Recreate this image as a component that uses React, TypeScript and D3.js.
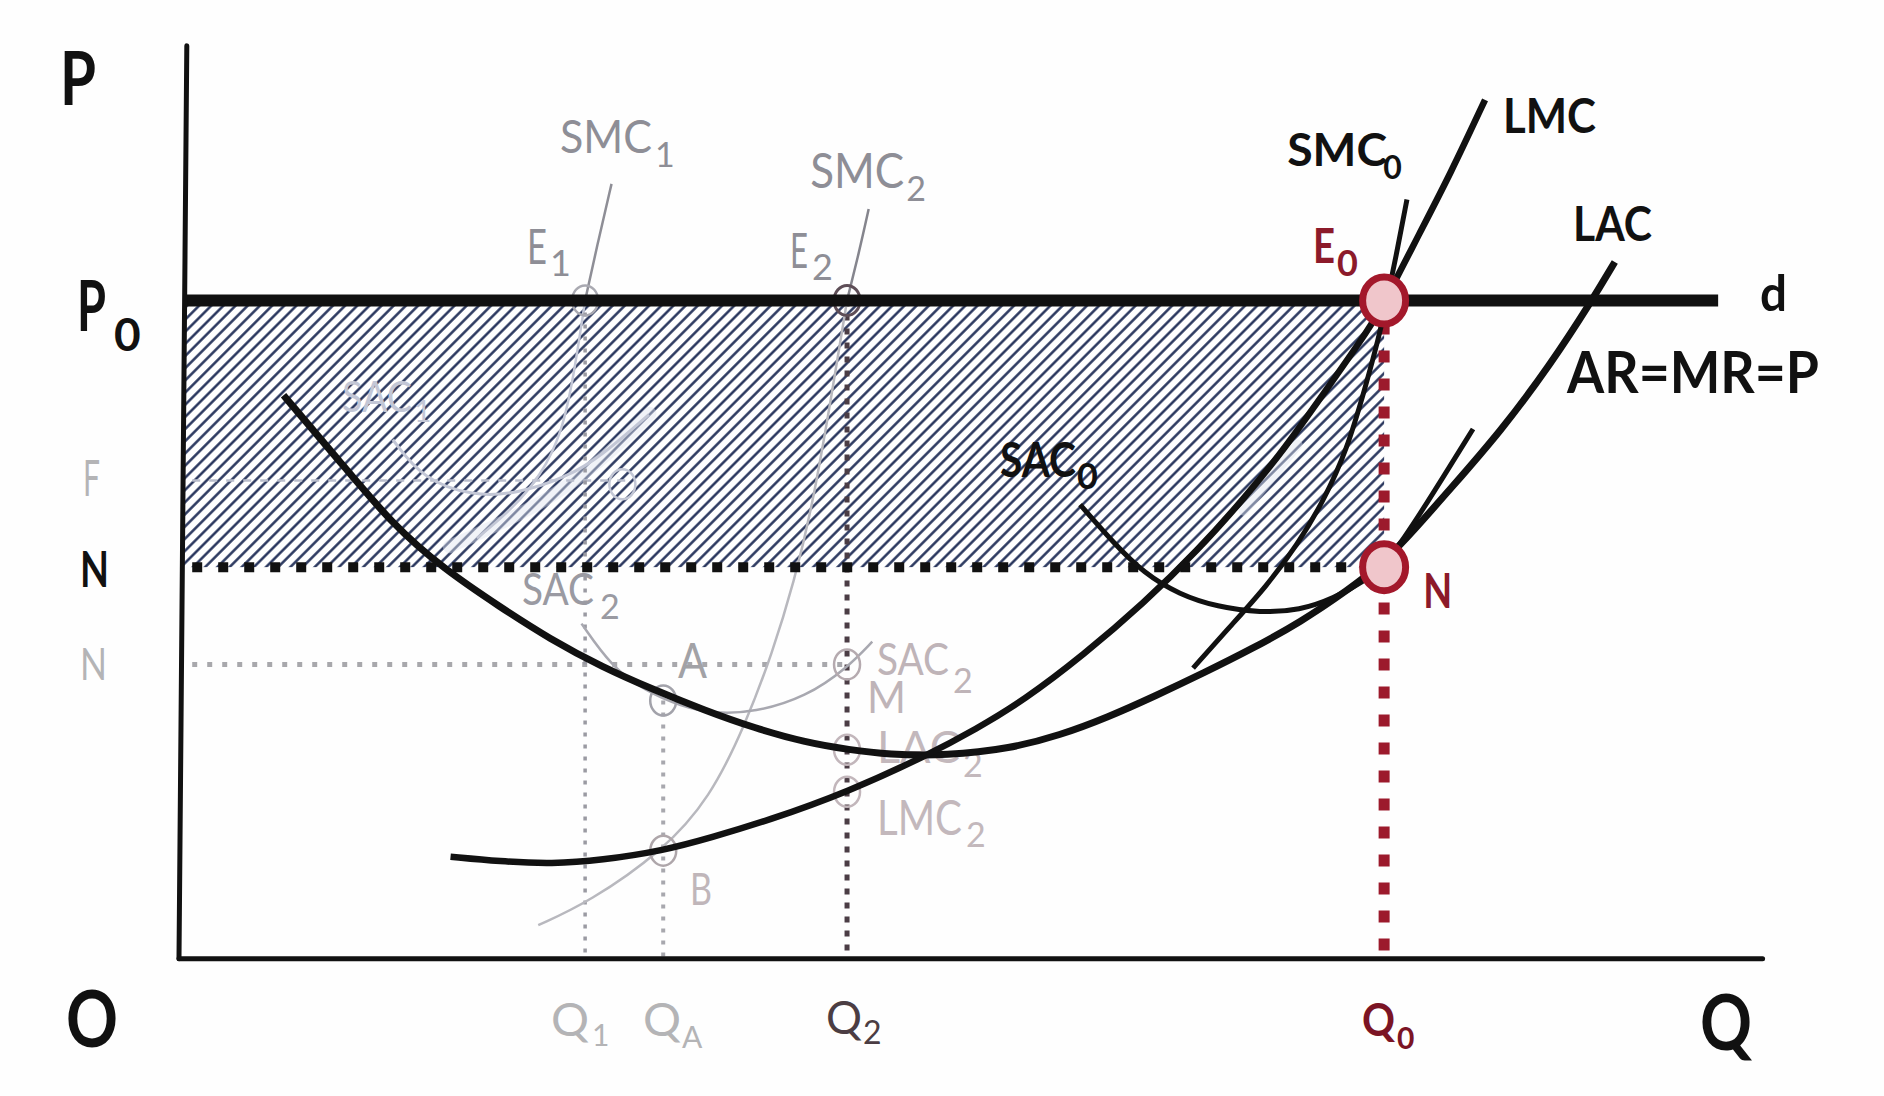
import React from "react";
import * as d3 from "d3";

type Pt = [number, number];

// price levels (P units) and quantities (Q units)
const P0 = 54.8;
const N_LEVEL = 32.6;
const N_GRAY = 24.5;
const F_LEVEL = 39.8;
const Q1 = 33.5;
const QA = 40.0;
const Q2 = 55.3;
const Q0 = 100;

// long-run curves
const lac: Pt[] = [
  [8.4, 46.9], [13.0, 41.5], [17.5, 36.1], [21.8, 32.4], [26.4, 29.3], [30.6, 26.6],
  [34.9, 24.3], [39.2, 22.4], [43.4, 20.7], [47.6, 19.2], [51.9, 18.0], [55.5, 17.4],
  [58.7, 17.0], [63.6, 16.9], [68.9, 17.5], [73.0, 18.6], [77.0, 20.1], [81.0, 21.9],
  [85.0, 23.8], [89.0, 25.8], [93.0, 28.0], [97.0, 30.7], [100.0, 33.0], [102.6, 35.8],
  [105.5, 39.1], [109.7, 43.9], [113.8, 49.4], [117.3, 54.8], [119.2, 58.0],
];
const lmc: Pt[] = [
  [22.3, 8.5], [26.4, 8.1], [30.8, 7.9], [34.8, 8.2], [40.0, 9.0], [44.0, 10.1],
  [48.7, 11.5], [55.4, 13.9], [62.1, 17.0], [66.0, 19.1], [70.0, 21.5], [75.0, 25.3],
  [80.0, 29.6], [84.5, 34.0], [88.5, 38.5], [91.6, 42.3], [95.5, 47.8], [98.8, 52.5],
  [100.0, 54.6], [103.0, 60.5], [105.5, 65.3], [108.4, 71.5],
];
// short-run curves at Q0
const sac0: Pt[] = [
  [74.7, 37.8], [77.5, 34.6], [80.0, 32.1], [83.0, 30.3], [86.1, 29.3], [89.7, 28.8],
  [93.0, 29.0], [95.8, 30.0], [98.3, 31.4], [100.0, 32.8], [101.6, 34.9], [103.8, 38.3],
  [107.4, 44.1],
];
const smc0: Pt[] = [
  [84.1, 24.2], [87.4, 27.9], [90.2, 31.0], [92.8, 34.5], [94.9, 38.0], [96.9, 42.3],
  [98.5, 47.8], [99.5, 51.5], [100.2, 54.6], [101.0, 58.5], [101.9, 63.2],
];
// faded short-run curves
const sac2: Pt[] = [
  [33.2, 27.9], [35.7, 24.3], [38.5, 22.3], [41.5, 21.0], [44.2, 20.4], [47.6, 20.5],
  [51.9, 21.8], [55.3, 24.2], [57.4, 26.4],
];
const smc2: Pt[] = [
  [29.6, 2.8], [33.8, 4.7], [40.0, 9.0], [43.9, 13.4], [46.8, 19.4], [49.1, 25.5],
  [50.9, 31.4], [52.4, 37.6], [54.0, 46.8], [55.3, 54.8],
];
const smc2Top: Pt[] = [[55.3, 54.8], [56.3, 58.8], [57.1, 62.4]];
const smc1Top: Pt[] = [[33.5, 54.8], [34.6, 59.8], [35.7, 64.5]];
const smc1Low: Pt[] = [[24.5, 35.0], [27.5, 37.5], [29.8, 40.2], [31.6, 43.8], [32.6, 48.8], [33.5, 54.8]];
const sac1: Pt[] = [
  [17.5, 43.2], [20.0, 39.9], [24.2, 38.5], [27.8, 38.7], [32.0, 40.1], [34.8, 41.8], [38.8, 45.3],
];
const hazeA: Pt[] = [[22.2, 34.3], [26.0, 36.0], [31.0, 38.5], [35.5, 42.0], [38.9, 45.4]];
const hazeB: Pt[] = [[88.3, 37.3], [90.8, 40.3], [92.8, 42.8]];

const grayDots: { name: string; q: number; p: number }[] = [
  { name: "E1", q: Q1, p: P0 },
  { name: "E2", q: Q2, p: P0 },
  { name: "A", q: QA, p: 21.5 },
  { name: "M", q: Q2, p: N_GRAY },
  { name: "LAC2", q: Q2, p: 17.4 },
  { name: "LMC2", q: Q2, p: 13.9 },
  { name: "B", q: QA, p: 9.0 },
  { name: "F", q: 36.6, p: 39.5 },
];
const dotColor: Record<string, string> = {
  E1: "#a9a9b1", E2: "#5e4e57", A: "#a2a2aa", M: "#b5aaaf",
  LAC2: "#c2b6bb", LMC2: "#c2b6bb", B: "#aea6aa", F: "#c3c7d5",
};

const BLACK = "#111111";
const RED = "#8c1a2a";
const GRAY = "#8e8e96";
const LIGHT = "#b4b4b6";
const PINK = "#bfb4b8";

interface Label {
  t: string; q: number; p: number; size: number; w: number; weight: number; color: string;
  sub?: string; subDx?: number; subDy?: number; subSize?: number;
}

const labels: Label[] = [
  { t: "P", q: -10.2, p: 71.06, size: 74, w: 36, weight: 700, color: BLACK },
  { t: "P", q: -8.79, p: 52.24, size: 70, w: 29, weight: 700, color: BLACK, sub: "0", subDx: 37, subDy: 20, subSize: 46 },
  { t: "F", q: -8.29, p: 38.49, size: 50, w: 17, weight: 400, color: LIGHT },
  { t: "N", q: -8.54, p: 30.95, size: 50, w: 29, weight: 700, color: BLACK },
  { t: "N", q: -8.54, p: 23.2, size: 45, w: 27, weight: 400, color: LIGHT },
  { t: "O", q: -9.7, p: -7.34, size: 78, w: 52, weight: 700, color: BLACK },
  { t: "Q", q: 126.3, p: -7.6, size: 76, w: 52, weight: 700, color: BLACK },
  { t: "SMC", q: 31.41, p: 67.07, size: 47, w: 92, weight: 400, color: GRAY, sub: "1", subDx: 95, subDy: 14, subSize: 34 },
  { t: "SMC", q: 52.23, p: 64.15, size: 48, w: 94, weight: 400, color: GRAY, sub: "2", subDx: 96, subDy: 13, subSize: 34 },
  { t: "E", q: 28.67, p: 57.83, size: 48, w: 20, weight: 400, color: GRAY, sub: "1", subDx: 23, subDy: 12, subSize: 36 },
  { t: "E", q: 50.56, p: 57.5, size: 48, w: 18, weight: 400, color: GRAY, sub: "2", subDx: 22, subDy: 12, subSize: 36 },
  { t: "SAC", q: 13.27, p: 45.5, size: 42, w: 70, weight: 400, color: "#c3c7d6", sub: "1", subDx: 72, subDy: 10, subSize: 30 },
  { t: "SAC", q: 28.25, p: 29.45, size: 44, w: 72, weight: 400, color: "#9a9aa2", sub: "2", subDx: 78, subDy: 14, subSize: 34 },
  { t: "A", q: 41.23, p: 23.37, size: 48, w: 29, weight: 400, color: "#a2a2a6" },
  { t: "SAC", q: 57.79, p: 23.62, size: 44, w: 72, weight: 400, color: PINK, sub: "2", subDx: 76, subDy: 18, subSize: 34 },
  { t: "M", q: 56.96, p: 20.46, size: 44, w: 39, weight: 400, color: PINK },
  { t: "LAC", q: 57.79, p: 16.3, size: 44, w: 83, weight: 400, color: "#c3b8bc", sub: "2", subDx: 86, subDy: 14, subSize: 34 },
  { t: "LMC", q: 57.79, p: 10.3, size: 48, w: 85, weight: 400, color: "#c3b8bc", sub: "2", subDx: 89, subDy: 12, subSize: 34 },
  { t: "B", q: 42.23, p: 4.48, size: 44, w: 22, weight: 400, color: "#c0b6ba" },
  { t: "Q", q: 30.66, p: -6.43, size: 46, w: 38, weight: 400, color: LIGHT, sub: "1", subDx: 41, subDy: 10, subSize: 30 },
  { t: "Q", q: 38.32, p: -6.43, size: 46, w: 38, weight: 400, color: LIGHT, sub: "A", subDx: 39, subDy: 12, subSize: 30 },
  { t: "Q", q: 53.55, p: -6.26, size: 46, w: 36, weight: 400, color: "#4b3d43", sub: "2", subDx: 37, subDy: 10, subSize: 32 },
  { t: "Q", q: 98.16, p: -6.43, size: 46, w: 33, weight: 700, color: "#7b1424", sub: "0", subDx: 35, subDy: 13, subSize: 30 },
  { t: "SMC", q: 91.93, p: 65.98, size: 46, w: 100, weight: 700, color: BLACK, sub: "0", subDx: 96, subDy: 13, subSize: 32 },
  { t: "LMC", q: 109.9, p: 68.73, size: 48, w: 93, weight: 700, color: BLACK },
  { t: "LAC", q: 115.72, p: 59.74, size: 48, w: 79, weight: 700, color: BLACK },
  { t: "E", q: 94.08, p: 57.9, size: 48, w: 22, weight: 700, color: RED, sub: "0", subDx: 24, subDy: 13, subSize: 36 },
  { t: "d", q: 131.28, p: 53.9, size: 50, w: 27, weight: 700, color: BLACK },
  { t: "AR=MR=P", q: 115.22, p: 47.09, size: 58, w: 252, weight: 700, color: BLACK },
  { t: "SAC", q: 68.03, p: 40.1, size: 48, w: 76, weight: 700, color: BLACK, sub: "0", subDx: 77, subDy: 12, subSize: 36 },
  { t: "N", q: 103.25, p: 29.2, size: 48, w: 29, weight: 700, color: RED },
];

const FONT = "Lato, 'Open Sans', sans-serif";

export default function App() {
  const width = 1884;
  const height = 1096;

  const x = d3.scaleLinear().domain([0, 131.5]).range([182.6, 1762.6]);
  const y = d3.scaleLinear().domain([0, 76]).range([958.8, 45.7]);

  const curve = d3
    .line<Pt>()
    .x((d) => x(d[0]))
    .y((d) => y(d[1]))
    .curve(d3.curveBasis);

  const renderLabel = (l: Label, i: number) => {
    const lx = x(l.q);
    const ly = y(l.p);
    return (
      <g key={i} fill={l.color} fontWeight={l.weight} fontFamily={FONT}>
        <text x={lx} y={ly} fontSize={l.size} textLength={l.w} lengthAdjust="spacingAndGlyphs">
          {l.t}
        </text>
        {l.sub && (
          <text x={lx + (l.subDx || 0)} y={ly + (l.subDy || 0)} fontSize={l.subSize}>
            {l.sub}
          </text>
        )}
      </g>
    );
  };

  const faintLabels = labels.filter((l) => l.weight === 400);
  const boldLabels = labels.filter((l) => l.weight !== 400);
  const pitch = 8.6;

  return (
    <svg
      width={width}
      height={height}
      style={{ position: "absolute", left: 0, top: 0, display: "block" }}
    >
      <defs>
        <pattern
          id="hatch"
          patternUnits="userSpaceOnUse"
          width={pitch}
          height={pitch}
          patternTransform="rotate(45)"
        >
          <rect width={pitch} height={pitch} fill="#ffffff" />
          <line x1={pitch / 2} y1={0} x2={pitch / 2} y2={pitch} stroke="#1f2d56" strokeWidth={2.4} />
        </pattern>
      </defs>
      <rect width={width} height={height} fill="#fefefe" />

      {/* shaded profit rectangle */}
      <rect
        x={x(0)}
        y={y(P0)}
        width={x(Q0) - x(0)}
        height={y(N_LEVEL) - y(P0)}
        fill="url(#hatch)"
      />
      <path d={curve(hazeA) || ""} fill="none" stroke="#dfe4ef" strokeOpacity={0.45} strokeWidth={13} strokeLinecap="round" />
      <path d={curve(hazeB) || ""} fill="none" stroke="#dfe4ef" strokeOpacity={0.45} strokeWidth={10} strokeLinecap="round" />

      {/* faded plant-1 curves */}
      <line x1={x(0.8)} x2={x(37)} y1={y(F_LEVEL)} y2={y(F_LEVEL)} stroke="#b9bdcc" strokeWidth={2.5} strokeDasharray="8 9" />
      <path d={curve(sac1) || ""} fill="none" stroke="#c3c7d6" strokeWidth={3} />
      <path d={curve(smc1Low) || ""} fill="none" stroke="#c3c7d6" strokeWidth={2.5} />
      <path d={curve(smc1Top) || ""} fill="none" stroke="#8e8e96" strokeWidth={2.5} />

      {/* faded guide lines */}
      <line x1={x(0.8)} x2={x(Q2)} y1={y(N_GRAY)} y2={y(N_GRAY)} stroke="#a8a8ac" strokeWidth={5} strokeDasharray="5 10" />
      <line x1={x(Q1)} x2={x(Q1)} y1={y(P0)} y2={y(0)} stroke="#9a9aa2" strokeWidth={3.5} strokeDasharray="4 8" />
      <line x1={x(QA)} x2={x(QA)} y1={y(21.5)} y2={y(0)} stroke="#a8a8ae" strokeWidth={4} strokeDasharray="4 8" />
      <line x1={x(Q2)} x2={x(Q2)} y1={y(P0)} y2={y(0)} stroke="#4b3d45" strokeWidth={5} strokeDasharray="6 8" />

      {/* faded plant-2 curves */}
      <path d={curve(smc2) || ""} fill="none" stroke="#b8b8be" strokeWidth={2.5} />
      <path d={curve(smc2Top) || ""} fill="none" stroke="#85858d" strokeWidth={2.5} />
      <path d={curve(sac2) || ""} fill="none" stroke="#a8a8b0" strokeWidth={2.5} />

      {grayDots.map((d) => (
        <ellipse
          key={d.name}
          cx={x(d.q)}
          cy={y(d.p)}
          rx={13}
          ry={15}
          fill="none"
          stroke={dotColor[d.name]}
          strokeWidth={d.name === "E2" ? 3 : 2.5}
        />
      ))}

      {faintLabels.map(renderLabel)}

      {/* N level and Q0 guides */}
      <line x1={x(0.8)} x2={x(98.8)} y1={y(N_LEVEL)} y2={y(N_LEVEL)} stroke={BLACK} strokeWidth={10} strokeDasharray="10 16" />
      <line x1={x(Q0)} x2={x(Q0)} y1={y(P0) + 22} y2={y(0)} stroke="#9c1a2c" strokeWidth={11} strokeDasharray="12 16" />

      {/* black cost curves */}
      <path d={curve(lac) || ""} fill="none" stroke={BLACK} strokeWidth={7} />
      <path d={curve(lmc) || ""} fill="none" stroke={BLACK} strokeWidth={6.5} />
      <path d={curve(sac0) || ""} fill="none" stroke={BLACK} strokeWidth={5} />
      <path d={curve(smc0) || ""} fill="none" stroke={BLACK} strokeWidth={5} />

      {/* demand line d and axes */}
      <line x1={x(0.3)} x2={x(127.8)} y1={y(P0)} y2={y(P0)} stroke={BLACK} strokeWidth={12} />
      <line x1={x(0.35)} x2={x(-0.3)} y1={y(76)} y2={y(0)} stroke={BLACK} strokeWidth={5} strokeLinecap="round" />
      <line x1={x(-0.3)} x2={x(131.5)} y1={y(0)} y2={y(0)} stroke={BLACK} strokeWidth={5} strokeLinecap="round" />

      {/* equilibrium points */}
      {[P0, N_LEVEL].map((p, i) => (
        <ellipse
          key={i}
          cx={x(Q0)}
          cy={y(p)}
          rx={21.5}
          ry={23.5}
          fill="#f0c6cb"
          stroke="#a3182b"
          strokeWidth={7}
        />
      ))}

      {boldLabels.map(renderLabel)}
    </svg>
  );
}
